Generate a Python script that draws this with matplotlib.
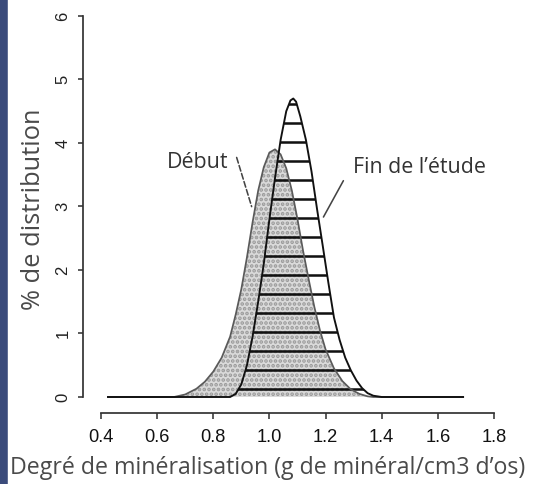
import matplotlib
matplotlib.use("Agg")
import matplotlib.pyplot as plt
from matplotlib.patches import Rectangle

# values
debut_x = [0.425, 0.66, 0.70, 0.74, 0.77, 0.80, 0.83, 0.86, 0.88, 0.90, 0.92, 0.94,
           0.96, 0.98, 1.00, 1.02, 1.04, 1.06, 1.08, 1.10, 1.12, 1.14, 1.16, 1.18,
           1.20, 1.23, 1.26, 1.29, 1.32, 1.35, 1.37, 1.69]
debut_y = [0, 0, 0.04, 0.13, 0.24, 0.40, 0.62, 0.95, 1.3, 1.7, 2.2, 2.75,
           3.25, 3.62, 3.85, 3.9, 3.82, 3.6, 3.25, 2.8, 2.3, 1.85, 1.42, 1.05,
           0.75, 0.45, 0.25, 0.12, 0.05, 0.01, 0, 0]

fin_x = [0.425, 0.86, 0.88, 0.90, 0.92, 0.94, 0.96, 0.98, 1.00, 1.02, 1.04, 1.06,
         1.075, 1.085, 1.095, 1.11, 1.13, 1.15, 1.17, 1.19, 1.21, 1.23, 1.25,
         1.27, 1.29, 1.31, 1.33, 1.35, 1.37, 1.40, 1.69]
fin_y = [0, 0, 0.05, 0.2, 0.5, 0.95, 1.5, 2.1, 2.8, 3.45, 4.05, 4.5,
         4.67, 4.7, 4.65, 4.42, 4.05, 3.55, 2.95, 2.38, 1.8, 1.25, 0.9,
         0.62, 0.42, 0.26, 0.14, 0.06, 0.02, 0, 0]

xticks = [0.4, 0.6, 0.8, 1.0, 1.2, 1.4, 1.6, 1.8]
yticks = [0, 1, 2, 3, 4, 5, 6]

DPI = 114
W, H = 534, 484
label_font = ["Open Sans", "DejaVu Sans"]
tick_font = ["Liberation Sans Narrow", "Liberation Sans", "DejaVu Sans"]

plt.rcParams["hatch.linewidth"] = 1.6

fig = plt.figure(figsize=(W / DPI, H / DPI), dpi=DPI)
fig.patches.append(Rectangle((0, 0), 7 / W, 1, transform=fig.transFigure,
                             color="#3b4b7b", zorder=0))

ax = fig.add_axes([83 / W, 1 - 413 / H, 427 / W, 403 / H])
ax.set_xlim(0.336, 1.857)
ax.set_ylim(-0.252, 6.094)

# début: stippled grey
ax.fill_between(debut_x, debut_y, 0, facecolor="#dadada", edgecolor="#9a9a9a",
                hatch="....", linewidth=0, zorder=1)
# fin de l'étude: horizontal hatching
ax.fill_between(fin_x, fin_y, 0, facecolor="none", edgecolor="#111111",
                hatch="-", linewidth=0, zorder=2)
ax.plot(debut_x, debut_y, color="#5a5a5a", lw=1.1, zorder=3)
ax.plot(fin_x, fin_y, color="#111111", lw=1.2, zorder=3)

ax.text(0.745, 3.70, "Début", fontsize=13.5, family=label_font, color="#333333",
        ha="center", va="center")
ax.annotate("", xy=(0.94, 2.95), xytext=(0.88, 3.82),
            arrowprops=dict(arrowstyle="-", linestyle="--", color="#444444", lw=1))
ax.text(1.298, 3.62, "Fin de l\u2019étude", fontsize=13.5, family=label_font,
        color="#333333", ha="left", va="center")
ax.annotate("", xy=(1.187, 2.79), xytext=(1.269, 3.45),
            arrowprops=dict(arrowstyle="-", color="#444444", lw=1))

for s in ["top", "right"]:
    ax.spines[s].set_visible(False)
ax.spines["left"].set_bounds(0, 6)
ax.spines["bottom"].set_bounds(0.4, 1.8)
for s in ["left", "bottom"]:
    ax.spines[s].set_color("#333333")
    ax.spines[s].set_linewidth(1.1)

ax.set_xticks(xticks)
ax.set_xticklabels([f"{v:.1f}" for v in xticks], family=tick_font, fontsize=11.5,
                   color="#111111")
ax.set_yticks(yticks)
ax.set_yticklabels([str(v) for v in yticks], family=tick_font, fontsize=10.5,
                   color="#222222", rotation=90, va="center")
ax.tick_params(axis="x", length=4, width=1, pad=6, colors="#333333", labelcolor="#111111")
ax.tick_params(axis="y", length=3, width=1, pad=5, colors="#333333", labelcolor="#222222")

ax.set_xlabel("Degré de minéralisation (g de minéral/cm3 d\u2019os)", fontsize=14.6,
              family=label_font, color="#4a4a4a", va="center")
ax.xaxis.set_label_coords(0.433, -0.136)
ax.set_ylabel("% de distribution", fontsize=16, family=label_font,
              color="#4a4a4a", va="center")
ax.yaxis.set_label_coords(-0.117, 0.506)

fig.savefig("out.png", dpi=DPI)
